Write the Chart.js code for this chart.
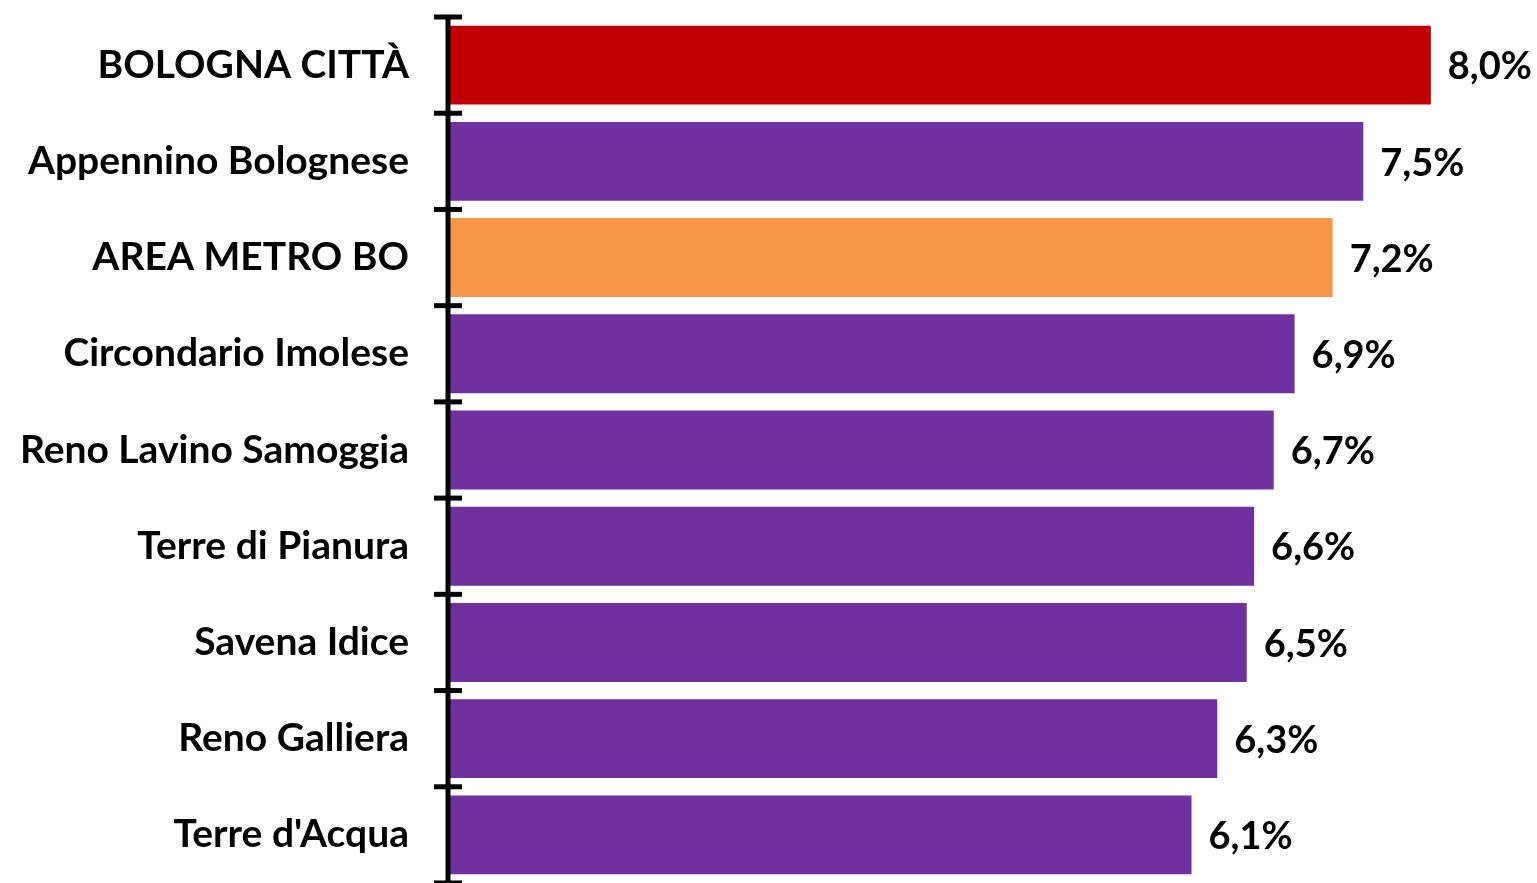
<!DOCTYPE html>
<html>
<head>
<meta charset="utf-8">
<script src="https://cdn.jsdelivr.net/npm/chart.js@4.4.1/dist/chart.umd.min.js"></script>
<style>
  html, body { margin: 0; padding: 0; background: #ffffff; }
  #wrap { width: 1537px; height: 883px; position: relative; }
</style>
</head>
<body>
<div id="wrap"><canvas id="c" width="1537" height="883"></canvas></div>
<script>
const categories = [
  "BOLOGNA CITTÀ",
  "Appennino Bolognese",
  "AREA METRO BO",
  "Circondario Imolese",
  "Reno Lavino Samoggia",
  "Terre di Pianura",
  "Savena Idice",
  "Reno Galliera",
  "Terre d'Acqua"
];
const values = [8.00, 7.45, 7.20, 6.89, 6.72, 6.56, 6.50, 6.26, 6.05];
const barColors = ["#C00000", "#7030A0", "#F79646", "#7030A0", "#7030A0", "#7030A0", "#7030A0", "#7030A0", "#7030A0"];

const FONT = "Lato, 'Open Sans', sans-serif";

function fmt(v) {
  return (Math.round(v * 10) / 10).toFixed(1).replace('.', ',') + '%';
}

const overlay = {
  id: 'overlay',
  afterDatasetsDraw(chart) {
    const ctx = chart.ctx;
    const ys = chart.scales.y;
    const area = chart.chartArea;
    const meta = chart.getDatasetMeta(0);
    ctx.save();
    // value labels
    ctx.fillStyle = '#000000';
    ctx.font = 'bold 38px ' + FONT;
    ctx.textAlign = 'left';
    ctx.textBaseline = 'middle';
    meta.data.forEach((bar, i) => {
      ctx.fillText(fmt(values[i]), bar.x + 17, bar.y + 2);
    });
    // axis line
    const ax = area.left - 1;
    ctx.strokeStyle = '#000000';
    ctx.lineWidth = 5;
    ctx.beginPath();
    ctx.moveTo(ax, ys.getPixelForValue(-0.5));
    ctx.lineTo(ax, ys.getPixelForValue(categories.length - 0.5));
    ctx.stroke();
    // tick marks at category boundaries
    for (let i = 0; i <= categories.length; i++) {
      const y = ys.getPixelForValue(i - 0.5);
      ctx.beginPath();
      ctx.moveTo(ax - 14, y);
      ctx.lineTo(ax + 14, y);
      ctx.stroke();
    }
    ctx.restore();
  }
};

new Chart(document.getElementById('c'), {
  type: 'bar',
  data: {
    labels: categories,
    datasets: [{
      data: values,
      backgroundColor: barColors,
      borderWidth: 0,
      barPercentage: 0.82,
      categoryPercentage: 1.0
    }]
  },
  options: {
    indexAxis: 'y',
    responsive: false,
    animation: false,
    devicePixelRatio: 1,
    layout: { padding: { top: 17, bottom: 0, left: 0, right: 8 } },
    plugins: { legend: { display: false }, tooltip: { enabled: false } },
    scales: {
      x: {
        display: false,
        min: 0,
        max: 8.8
      },
      y: {
        afterFit(scale) {
          scale.width = 449;
          scale.paddingTop = 0;
          scale.paddingBottom = 0;
        },
        grid: { display: false },
        border: { display: false },
        ticks: {
          padding: 32,
          color: '#000000',
          font: { family: FONT, size: 39, weight: 'bold' }
        }
      }
    }
  },
  plugins: [overlay]
});
</script>
</body>
</html>
